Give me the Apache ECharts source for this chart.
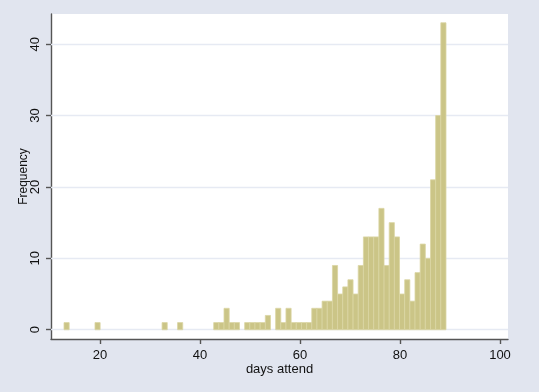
<!DOCTYPE html>
<html>
<head>
<meta charset="utf-8">
<script src="https://cdn.jsdelivr.net/npm/echarts@6/dist/echarts.min.js"></script>
<style>
html,body{margin:0;padding:0;background:#e1e5ef;}
#chart{width:539px;height:392px;}
</style>
</head>
<body>
<div id="chart"></div>
<script>
// Histogram of "days attend": 74 bins starting at 12.8, width ~1.0324
const binStart = 12.8;
const binWidth = 1.0324;
const frequency = [
  1,0,0,0,0,0,1,0,0,0,
  0,0,0,0,0,0,0,0,0,1,
  0,0,1,0,0,0,0,0,0,1,
  1,3,1,1,0,1,1,1,1,2,
  0,3,1,3,1,1,1,1,3,3,
  4,4,9,5,6,7,5,9,13,13,
  13,17,9,15,13,5,7,4,8,12,
  10,21,30,43
];
const xTicks = [20, 40, 60, 80, 100];
const yTicks = [0, 10, 20, 30, 40];
const xTitle = 'days attend';
const yTitle = 'Frequency';

const FONT = "'Liberation Sans', Arial, Helvetica, sans-serif";
const barData = frequency
  .map((f, i) => [binStart + i * binWidth, binStart + (i + 1) * binWidth, f])
  .filter(d => d[2] > 0);

const chart = echarts.init(document.getElementById('chart'), null, {renderer: 'canvas'});
chart.setOption({
  animation: false,
  backgroundColor: '#e1e5ef',
  grid: {left: 51, right: 31, top: 14, bottom: 53, show: true, backgroundColor: '#ffffff', borderWidth: 0},
  xAxis: {
    type: 'value', min: 10.2, max: 101.6,
    name: xTitle, nameLocation: 'middle', nameGap: 24, nameMoveOverlap: false,
    nameTextStyle: {fontFamily: FONT, fontSize: 13, color: '#111'},
    axisLine: {show: true, onZero: false, lineStyle: {color: '#555', width: 1.4}},
    axisTick: {show: true, length: 5, customValues: xTicks, lineStyle: {color: '#555', width: 1.4}},
    axisLabel: {customValues: xTicks, fontFamily: FONT, fontSize: 13, color: '#111', margin: 10},
    splitLine: {show: false}
  },
  yAxis: {
    type: 'value', min: -1.3, max: 44.23,
    name: yTitle, nameLocation: 'middle', nameGap: 21, nameRotate: 90, nameMoveOverlap: false,
    nameTextStyle: {fontFamily: FONT, fontSize: 12, color: '#111'},
    axisLine: {show: true, onZero: false, lineStyle: {color: '#555', width: 1.4}},
    axisTick: {show: true, length: 5, customValues: yTicks, lineStyle: {color: '#555', width: 1.4}},
    axisLabel: {customValues: yTicks, rotate: 90, fontFamily: FONT, fontSize: 13, color: '#111', margin: 9},
    splitLine: {show: false}
  },
  series: [
    {
      type: 'line', data: [], z: 1, silent: true,
      markLine: {
        silent: true, symbol: 'none', z: 1, animation: false,
        label: {show: false},
        lineStyle: {color: '#e6eaf3', width: 1.3, type: 'solid'},
        data: yTicks.map(v => ({yAxis: v}))
      }
    },
    {
      type: 'custom', z: 3,
      encode: {x: [0, 1], y: 2},
      data: barData,
      renderItem: function (params, api) {
        const p0 = api.coord([api.value(0), 0]);
        const p1 = api.coord([api.value(1), api.value(2)]);
        return {
          type: 'rect',
          shape: {x: p0[0], y: p1[1], width: p1[0] - p0[0], height: p0[1] - p1[1]},
          style: {fill: '#cbc587', stroke: '#dad5a3', lineWidth: 0.8}
        };
      }
    }
  ]
});
</script>
</body>
</html>
